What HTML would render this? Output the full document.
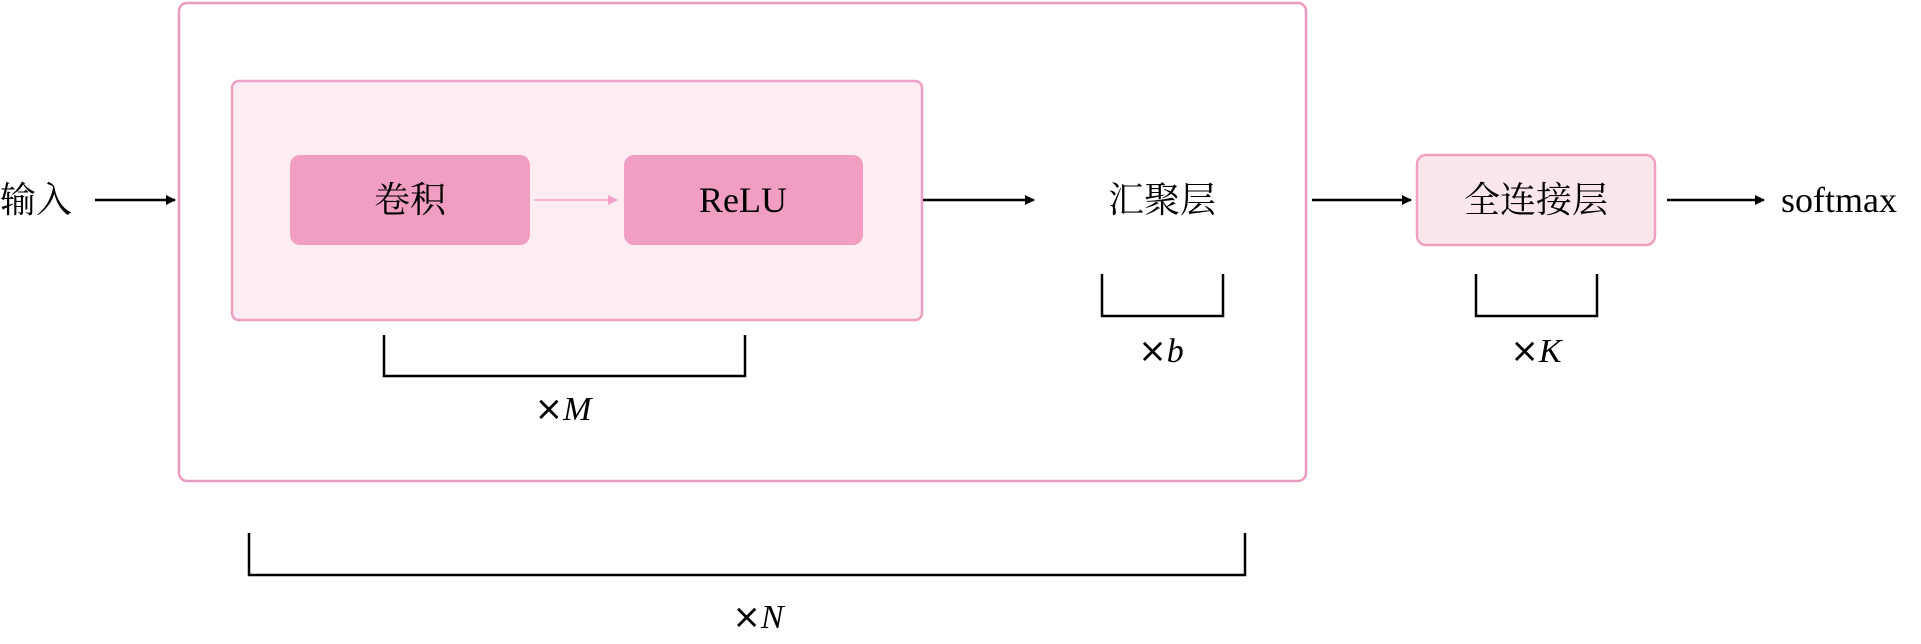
<!DOCTYPE html>
<html><head><meta charset="utf-8"><style>
html,body{margin:0;padding:0;background:#fff;}
svg{display:block;}
text{font-family:"Liberation Serif","Noto Serif CJK SC",serif;fill:#000;}
</style></head><body>
<svg width="1921" height="644" viewBox="0 0 1921 644" xmlns="http://www.w3.org/2000/svg">
<defs>
<marker id="ah" markerWidth="10" markerHeight="10" refX="9" refY="5" orient="auto" markerUnits="userSpaceOnUse">
<path d="M0,0 L10,5 L0,10 z" fill="#000"/></marker>
<marker id="ahp" markerWidth="10" markerHeight="10" refX="9" refY="5" orient="auto" markerUnits="userSpaceOnUse">
<path d="M0,0 L10,5 L0,10 z" fill="#f0a0c2"/></marker>
</defs>
<!-- outer box -->
<rect x="179" y="3" width="1127" height="478" rx="8" fill="#fff" stroke="#eb9bc0" stroke-width="2.5"/>
<!-- inner box -->
<rect x="232" y="81" width="690" height="239" rx="7" fill="#fdedf2" stroke="#f0a0c2" stroke-width="2.5"/>
<!-- conv / relu -->
<rect x="290" y="155" width="240" height="90" rx="10" fill="#f19ec2"/>
<rect x="624" y="155" width="239" height="90" rx="10" fill="#f19ec2"/>
<text x="410" y="212" font-size="36" text-anchor="middle">卷积</text>
<text x="743" y="212" font-size="36" text-anchor="middle">ReLU</text>
<line x1="534" y1="200" x2="617" y2="200" stroke="#f0a0c2" stroke-width="1.5" marker-end="url(#ahp)"/>
<!-- input -->
<text x="0" y="212" font-size="36">输入</text>
<line x1="95" y1="200" x2="175" y2="200" stroke="#000" stroke-width="2.5" marker-end="url(#ah)"/>
<line x1="923" y1="200" x2="1034" y2="200" stroke="#000" stroke-width="2.5" marker-end="url(#ah)"/>
<text x="1162" y="212" font-size="36" text-anchor="middle">汇聚层</text>
<line x1="1312" y1="200" x2="1411" y2="200" stroke="#000" stroke-width="2.5" marker-end="url(#ah)"/>
<rect x="1417" y="155" width="238" height="90" rx="9" fill="#fbe6ec" stroke="#f0a0c2" stroke-width="2.5"/>
<text x="1536" y="212" font-size="36" text-anchor="middle">全连接层</text>
<line x1="1667" y1="200" x2="1764" y2="200" stroke="#000" stroke-width="2.5" marker-end="url(#ah)"/>
<text x="1781" y="212" font-size="36">softmax</text>
<!-- brackets -->
<g fill="none" stroke="#000" stroke-width="2.5">
<path d="M384,335 V376 H745 V335"/>
<path d="M249,533 V575 H1245 V533"/>
<path d="M1102,274 V316 H1223 V274"/>
<path d="M1476,274 V316 H1597 V274"/>
</g>
<text x="563" y="420" font-size="34" text-anchor="middle"><tspan font-family="DejaVu Sans, sans-serif">×</tspan><tspan font-style="italic">M</tspan></text>
<text x="758" y="628" font-size="34" text-anchor="middle"><tspan font-family="DejaVu Sans, sans-serif">×</tspan><tspan font-style="italic">N</tspan></text>
<text x="1161" y="362" font-size="34" text-anchor="middle"><tspan font-family="DejaVu Sans, sans-serif">×</tspan><tspan font-style="italic">b</tspan></text>
<text x="1536" y="362" font-size="34" text-anchor="middle"><tspan font-family="DejaVu Sans, sans-serif">×</tspan><tspan font-style="italic">K</tspan></text>
</svg>
</body></html>
